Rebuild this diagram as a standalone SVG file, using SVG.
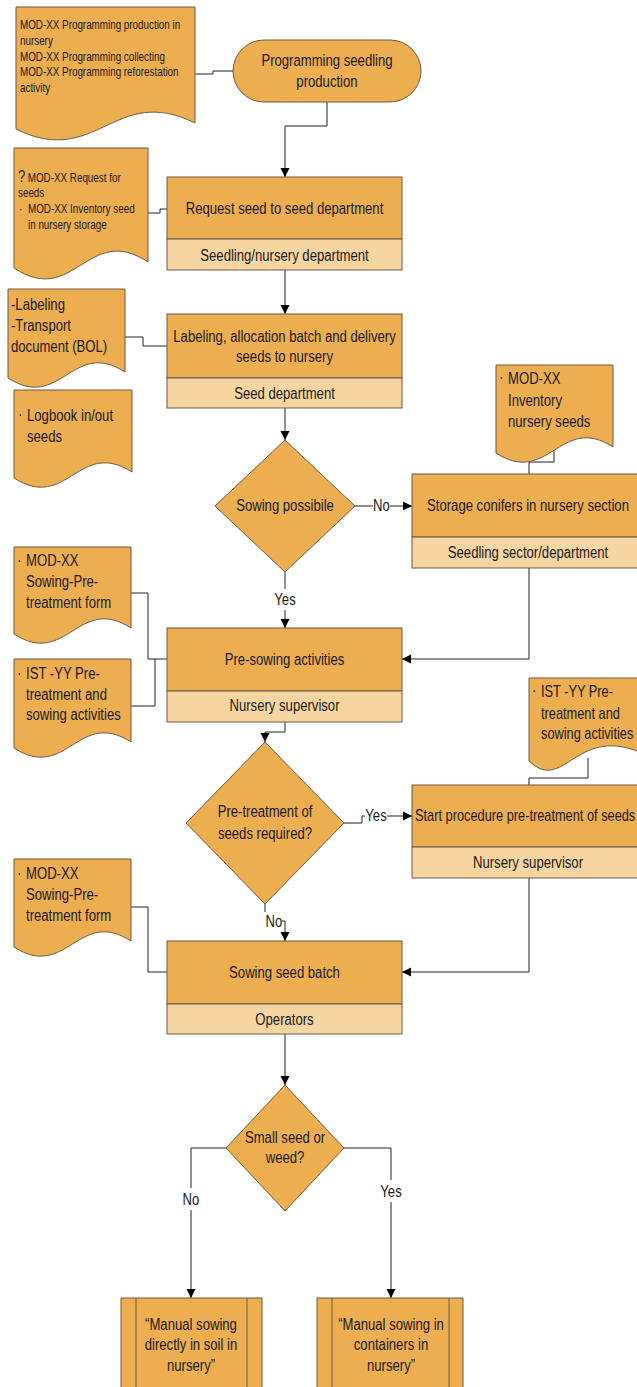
<svg xmlns="http://www.w3.org/2000/svg" width="637" height="1387" viewBox="0 0 637 1387">
<style>
text{font-family:'Liberation Sans',Arial,sans-serif;fill:#1a1a1a;font-size:16px}
.m{text-anchor:middle}
.s{font-size:12px}
.q{font-size:16px}
.top{fill:#EDAE50;stroke:#6a5a48;stroke-width:1}
.bot{fill:#F7D5A1;stroke:#6a5a48;stroke-width:1}
.doc{fill:#EDAE50;stroke:#6a5a48;stroke-width:1}
.c{fill:none;stroke:#222;stroke-width:1}
.a{marker-end:url(#ah)}
</style>
<defs>
<marker id="ah" viewBox="0 0 10 10" refX="10" refY="5" markerWidth="9" markerHeight="10" markerUnits="userSpaceOnUse" orient="auto">
<path d="M0,0 L10,5 L0,10 Z" fill="#000"/>
</marker>
</defs>
<rect width="637" height="1387" fill="#fff"/>

<g id="connectors">
<polyline class="c" points="195,74 213,74 213,71 233,71"/>
<polyline class="c a" points="327,102 327,126 285,126 285,177"/>
<polyline class="c" points="148,213 160,213 160,209 167,209"/>
<polyline class="c a" points="285,270 285,314"/>
<polyline class="c" points="125,337 143,337 143,346 167,346"/>
<polyline class="c a" points="285,408 285,440"/>
<polyline class="c" points="355,506 373,506"/>
<polyline class="c a" points="390,506 412,506"/>
<polyline class="c" points="554,450 554,462 529,462 529,474"/>
<polyline class="c" points="285,572 285,589"/>
<polyline class="c a" points="285,610 285,628"/>
<polyline class="c a" points="529,568 529,659 402,659"/>
<polyline class="c" points="131,593 148,593 148,659 167,659"/>
<polyline class="c" points="131,706 155,706 155,659"/>
<polyline class="c a" points="285,722 285,732 265,732 265,742"/>
<polyline class="c" points="344,823 362,823 362,816 365,816"/>
<polyline class="c a" points="387,816 412,816"/>
<polyline class="c" points="588,758 588,778 529,778 529,785"/>
<polyline class="c a" points="529,878 529,972 402,972"/>
<polyline class="c" points="131,907 148,907 148,972 167,972"/>
<polyline class="c" points="265,904 265,912"/>
<polyline class="c a" points="282,921 285,921 285,941"/>
<polyline class="c a" points="285,1034 285,1085"/>
<polyline class="c" points="226,1148 191,1148 191,1188"/>
<polyline class="c a" points="191,1210 191,1298"/>
<polyline class="c" points="344,1148 391,1148 391,1180"/>
<polyline class="c a" points="391,1202 391,1298"/>
<text class="m" transform="translate(381.5,511) scale(.82,1)">No</text>
<text class="m" transform="translate(285,605) scale(.82,1)">Yes</text>
<text class="m" transform="translate(376,821) scale(.82,1)">Yes</text>
<text class="m" transform="translate(274,927) scale(.82,1)">No</text>
<text class="m" transform="translate(191,1205) scale(.82,1)">No</text>
<text class="m" transform="translate(391,1197) scale(.82,1)">Yes</text>
</g>

<g id="doc1">
<path class="doc" d="M16,7 H195 V123 C114.45,83 96.55,169 16,129 Z"/>
<text class="s" transform="translate(20,29) scale(.82,1)">MOD-XX Programming production in</text>
<text class="s" transform="translate(20,45) scale(.82,1)">nursery</text>
<text class="s" transform="translate(20,61) scale(.82,1)">MOD-XX Programming collecting</text>
<text class="s" transform="translate(20,76) scale(.82,1)">MOD-XX Programming reforestation</text>
<text class="s" transform="translate(20,92) scale(.82,1)">activity</text>
</g>

<g id="terminal">
<rect class="top" x="233" y="40" width="188" height="62" rx="31" ry="31"/>
<text class="m" transform="translate(327,66) scale(.82,1)">Programming seedling</text>
<text class="m" transform="translate(327,87) scale(.82,1)">production</text>
</g>

<g id="doc2">
<path class="doc" d="M14,148 H148 V262 C87.7,222 74.3,308 14,268 Z"/>
<text transform="translate(18,182) scale(.82,1)"><tspan class="q">?</tspan><tspan class="s" dx="3">MOD-XX Request for</tspan></text>
<text class="s" transform="translate(18,197) scale(.82,1)">seeds</text>
<text class="s" transform="translate(19,213) scale(.82,1)">·</text>
<text class="s" transform="translate(28,213) scale(.82,1)">MOD-XX Inventory seed</text>
<text class="s" transform="translate(28,229) scale(.82,1)">in nursery storage</text>
</g>

<g id="box1">
<rect class="top" x="167" y="177" width="235" height="62"/>
<rect class="bot" x="167" y="239" width="235" height="31"/>
<text class="m" transform="translate(284.5,214) scale(.82,1)">Request seed to seed department</text>
<text class="m" transform="translate(284.5,260.5) scale(.82,1)">Seedling/nursery department</text>
</g>

<g id="doc3">
<path class="doc" d="M8,289 H125 V372 C72.35,338 60.65,412 8,378 Z"/>
<text transform="translate(11,309.5) scale(.82,1)">-Labeling</text>
<text transform="translate(11,330.5) scale(.82,1)">-Transport</text>
<text transform="translate(11,352) scale(.82,1)">document (BOL)</text>
</g>

<g id="box2">
<rect class="top" x="167" y="314" width="235" height="64"/>
<rect class="bot" x="167" y="378" width="235" height="30"/>
<text class="m" transform="translate(284.5,342) scale(.82,1)">Labeling, allocation  batch and delivery</text>
<text class="m" transform="translate(284.5,362) scale(.82,1)">seeds to nursery</text>
<text class="m" transform="translate(284.5,398.5) scale(.82,1)">Seed department</text>
</g>

<g id="doc4">
<path class="doc" d="M14,390 H132 V472 C78.9,438 67.1,512 14,478 Z"/>
<text transform="translate(18,420) scale(.82,1)">·</text>
<text transform="translate(27,420.5) scale(.82,1)">Logbook in/out</text>
<text transform="translate(27,441.5) scale(.82,1)">seeds</text>
</g>

<g id="decision1">
<polygon class="top" points="285,440 355,506 285,572 215,506"/>
<text class="m" transform="translate(285,511) scale(.82,1)">Sowing possibile</text>
</g>

<g id="doc5">
<path class="doc" d="M496,365 H613 V447 C560.35,413 548.65,487 496,453 Z"/>
<text transform="translate(499,383) scale(.82,1)">·</text>
<text transform="translate(508,383.5) scale(.82,1)">MOD-XX</text>
<text transform="translate(508,406) scale(.82,1)">Inventory</text>
<text transform="translate(508,427) scale(.82,1)">nursery seeds</text>
</g>

<g id="box3">
<rect class="top" x="412" y="474" width="235" height="63"/>
<rect class="bot" x="412" y="537" width="235" height="31"/>
<text class="m" transform="translate(528,510.5) scale(.82,1)">Storage conifers in nursery section</text>
<text class="m" transform="translate(528,558) scale(.82,1)">Seedling sector/department</text>
</g>

<g id="doc6">
<path class="doc" d="M14,547 H131 V628 C78.35,594 66.65,668 14,634 Z"/>
<text transform="translate(17,566) scale(.82,1)">·</text>
<text transform="translate(26,566) scale(.82,1)">MOD-XX</text>
<text transform="translate(26,587) scale(.82,1)">Sowing-Pre-</text>
<text transform="translate(26,608) scale(.82,1)">treatment form</text>
</g>

<g id="doc7">
<path class="doc" d="M14,659 H131 V742 C78.35,708 66.65,782 14,748 Z"/>
<text transform="translate(17,678.5) scale(.82,1)">·</text>
<text transform="translate(26,679) scale(.82,1)">IST -YY Pre-</text>
<text transform="translate(26,699.5) scale(.82,1)">treatment and</text>
<text transform="translate(26,719.5) scale(.82,1)">sowing activities</text>
</g>

<g id="box4">
<rect class="top" x="167" y="628" width="235" height="63"/>
<rect class="bot" x="167" y="691" width="235" height="31"/>
<text class="m" transform="translate(284.5,664.5) scale(.82,1)">Pre-sowing activities</text>
<text class="m" transform="translate(284.5,711) scale(.82,1)">Nursery supervisor</text>
</g>

<g id="decision2">
<polygon class="top" points="265,742 344,823 265,904 186,823"/>
<text class="m" transform="translate(265,817) scale(.82,1)">Pre-treatment of</text>
<text class="m" transform="translate(265,839) scale(.82,1)">seeds required?</text>
</g>

<g id="doc8">
<path class="doc" d="M529,678 H646 V755 C576.35,721 564.65,795 529,761 Z"/>
<text transform="translate(532,696) scale(.82,1)">·</text>
<text transform="translate(541,697) scale(.8,1)">IST -YY Pre-</text>
<text transform="translate(541,718.5) scale(.8,1)">treatment and</text>
<text transform="translate(541,738.5) scale(.8,1)">sowing activities</text>
</g>

<g id="box5">
<rect class="top" x="412" y="785" width="235" height="62"/>
<rect class="bot" x="412" y="847" width="235" height="31"/>
<text transform="translate(415,821) scale(.8,1)">Start procedure pre-treatment of seeds</text>
<text class="m" transform="translate(528,868) scale(.82,1)">Nursery supervisor</text>
</g>

<g id="doc9">
<path class="doc" d="M14,859 H131 V941 C78.35,907 66.65,981 14,947 Z"/>
<text transform="translate(17,878.5) scale(.82,1)">·</text>
<text transform="translate(26,879) scale(.82,1)">MOD-XX</text>
<text transform="translate(26,900) scale(.82,1)">Sowing-Pre-</text>
<text transform="translate(26,920.5) scale(.82,1)">treatment form</text>
</g>

<g id="box6">
<rect class="top" x="167" y="941" width="235" height="63"/>
<rect class="bot" x="167" y="1004" width="235" height="30"/>
<text class="m" transform="translate(284.5,977.5) scale(.82,1)">Sowing seed batch</text>
<text class="m" transform="translate(284.5,1024.5) scale(.82,1)">Operators</text>
</g>

<g id="decision3">
<polygon class="top" points="285,1085 344,1148 285,1211 226,1148"/>
<text class="m" transform="translate(285,1142.5) scale(.82,1)">Small seed or</text>
<text class="m" transform="translate(285,1163) scale(.82,1)">weed?</text>
</g>

<g id="process1">
<rect class="top" x="121" y="1298" width="141" height="110"/>
<line class="top" x1="136" y1="1298" x2="136" y2="1408"/>
<line class="top" x1="247" y1="1298" x2="247" y2="1408"/>
<text class="m" transform="translate(191,1329.5) scale(.82,1)">“Manual sowing</text>
<text class="m" transform="translate(191,1350) scale(.82,1)">directly in soil in</text>
<text class="m" transform="translate(191,1370.5) scale(.82,1)">nursery”</text>
</g>

<g id="process2">
<rect class="top" x="317" y="1298" width="146" height="110"/>
<line class="top" x1="332" y1="1298" x2="332" y2="1408"/>
<line class="top" x1="449" y1="1298" x2="449" y2="1408"/>
<text class="m" transform="translate(391,1329.5) scale(.82,1)">“Manual sowing in</text>
<text class="m" transform="translate(391,1350) scale(.82,1)">containers in</text>
<text class="m" transform="translate(391,1370.5) scale(.82,1)">nursery”</text>
</g>
</svg>
